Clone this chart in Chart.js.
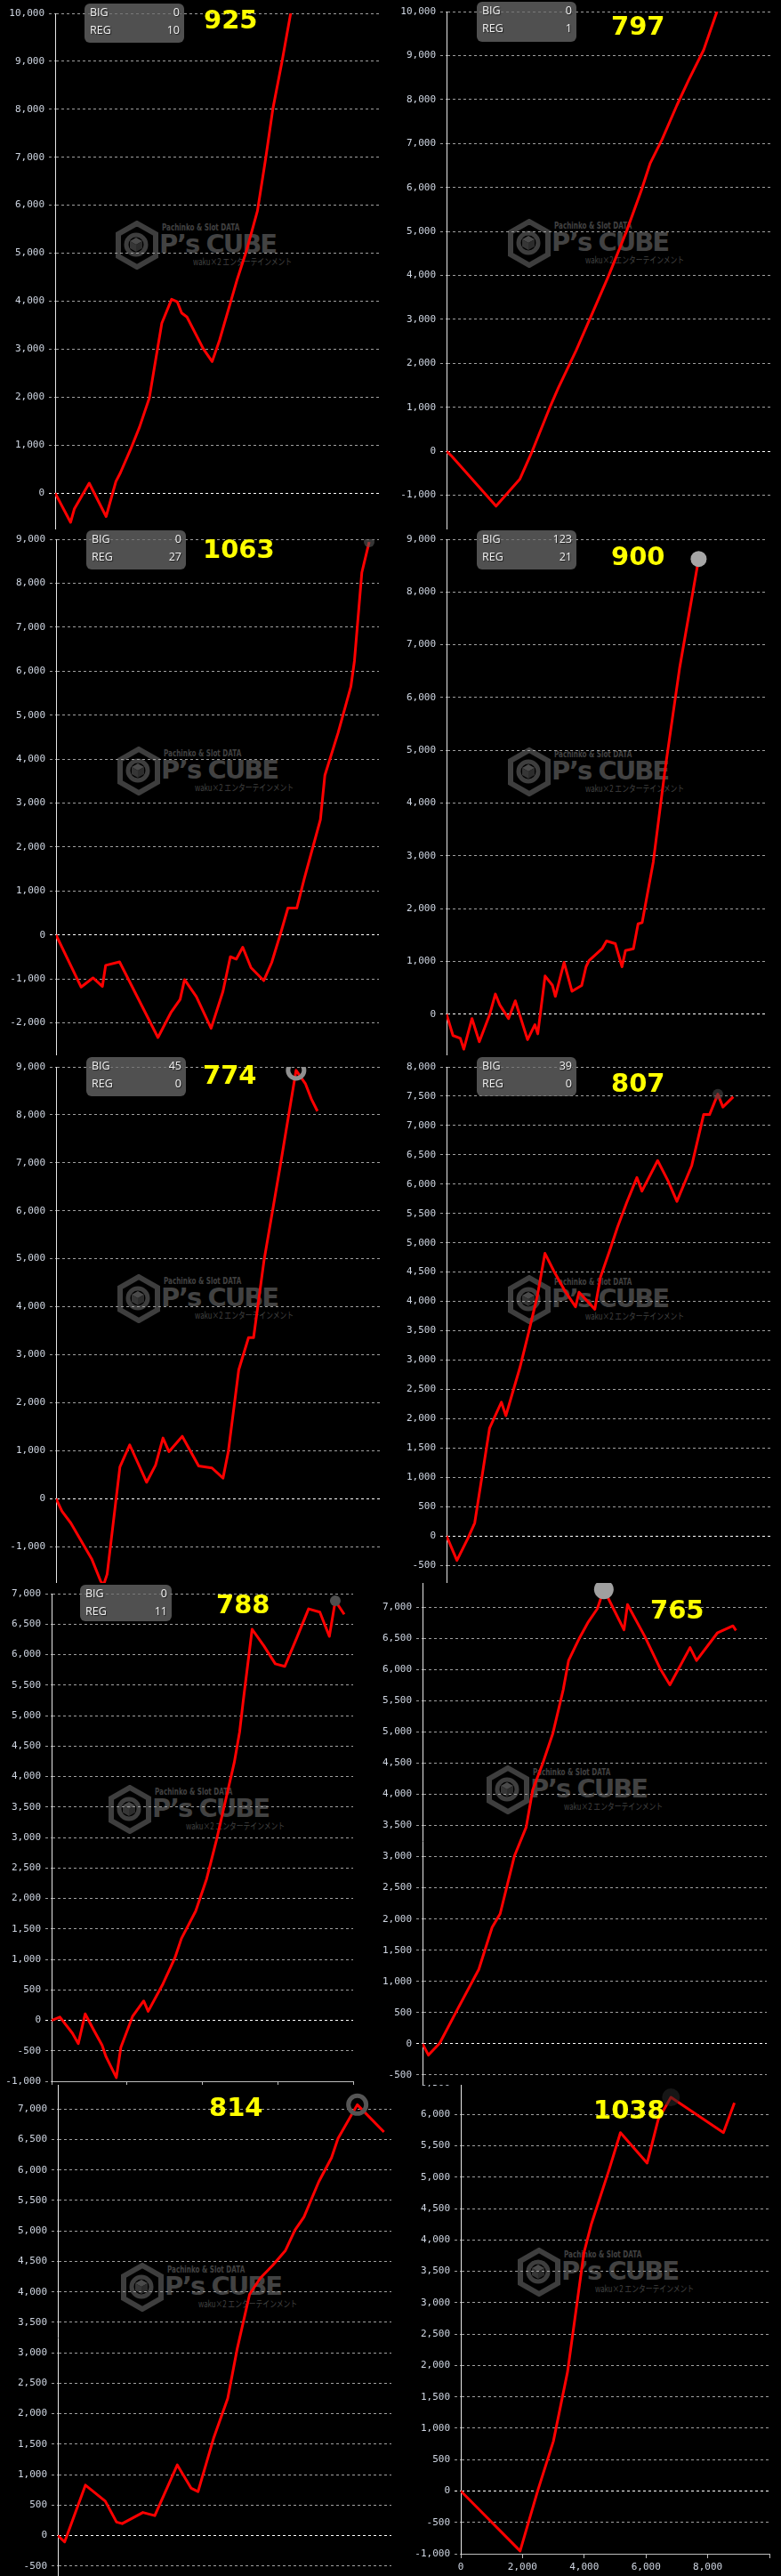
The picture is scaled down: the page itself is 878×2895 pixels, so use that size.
<!DOCTYPE html>
<html lang="ja">
<head>
<meta charset="UTF-8">
<title>スランプグラフ</title>
<script src="https://cdn.jsdelivr.net/npm/chart.js@4.4.1/dist/chart.umd.min.js"></script>
<style>
  body { margin: 0; background: #000; width: 878px; height: 2895px; position: relative; overflow: hidden; }
  .panel { position: absolute; overflow: hidden; background: #000; }
  .panel canvas { position: absolute; z-index: 1; }
  .wm { position: absolute; z-index: 0; width: 190px; height: 56px; color: #424242; }
  .wm svg { position: absolute; left: 0; top: 0; }
  .wm div { position: absolute; white-space: nowrap; transform-origin: 0 0; }
  .wm .t1 { left: 52px; top: 2px; font: bold 10px 'DejaVu Sans'; transform: scaleX(0.72); }
  .wm .t2 { left: 49px; top: 12px; font: bold 29px 'DejaVu Sans'; line-height: 1; letter-spacing: -2px; }
  .wm .t3 { left: 87px; top: 41px; font: 10px 'Noto Sans CJK JP'; line-height: 1; transform: scaleX(0.78); }
  .badge { position: absolute; z-index: 2; box-sizing: border-box; padding: 0 5px 0 6px;
           background: rgba(108,108,108,0.74); border-radius: 6px;
           font: 12.5px 'Open Sans'; color: #f2f2f2; text-shadow: 1px 1px 1px #222; }
  .badge .row { display: flex; justify-content: space-between; height: 20px; line-height: 20px; }
  .total { position: absolute; z-index: 2; color: #ffff00; font: bold 29px 'DejaVu Sans'; line-height: 1; }
</style>
</head>
<body>
<script>
// values (games, coin difference)
const games1 = [0, 476, 595, 1052, 1574, 1876, 2013, 2333, 2607, 2909, 3065, 3294, 3596, 3769, 3907, 4071, 4574, 4849, 5078, 5352, 5627, 5901, 6249, 6496, 6725, 7000, 7274, 7500];
const coins1 = [0, -610, -326, 206, -490, 241, 419, 916, 1377, 1980, 2619, 3541, 4038, 3989, 3754, 3669, 3009, 2740, 3187, 3825, 4464, 5032, 5884, 6948, 8013, 8971, 10000, 10850];

const games2 = [0, 156, 1529, 2262, 2628, 3178, 3453, 4002, 4460, 5009, 5559, 6016, 6291, 6658, 7115, 7482, 7940, 8352, 8600];
const coins2 = [0, -108, -1247, -635, -31, 976, 1441, 2293, 3067, 3997, 5004, 5933, 6553, 7095, 7870, 8451, 9125, 10000, 10600];

const games3 = [0, 778, 1144, 1436, 1537, 1967, 3156, 3568, 3843, 3980, 4346, 4803, 5169, 5398, 5581, 5782, 6038, 6432, 6679, 6953, 7182, 7456, 7685, 8188, 8326, 8737, 9131, 9241, 9470, 9698];
const coins3 = [0, -1185, -976, -1170, -690, -612, -2332, -1751, -1464, -1015, -1402, -2122, -1286, -496, -550, -279, -744, -1038, -627, 31, 612, 612, 1270, 2626, 3633, 4601, 5647, 6228, 8241, 8938];

const games4 = [0, 201, 430, 540, 797, 1026, 1346, 1529, 1667, 1941, 2152, 2537, 2766, 2857, 3086, 3315, 3407, 3681, 3929, 4231, 4368, 4460, 4872, 5009, 5284, 5495, 5604, 5852, 5998, 6126, 6474, 6841, 7299, 7894];
const coins4 = [0, -406, -458, -665, -84, -523, -19, 381, 174, -84, 252, -484, -200, -374, 723, 548, 335, 981, 432, 542, 897, 1013, 1239, 1387, 1335, 897, 1206, 1239, 1710, 1735, 2884, 4626, 6561, 8626];

const games5 = [0, 183, 457, 915, 1098, 1372, 1464, 1574, 1967, 2269, 2791, 3065, 3294, 3477, 3888, 4392, 4803, 5142, 5306, 5627, 5929, 6084, 6404, 6907, 7393, 7685, 7868, 8051];
const coins5 = [0, -263, -511, -1043, -1256, -1718, -1800, -1576, 660, 1121, 341, 696, 1263, 979, 1299, 681, 639, 426, 979, 2683, 3357, 3357, 4954, 6941, 8928, 8644, 8325, 8077];

const games6 = [0, 321, 659, 870, 1328, 1694, 1832, 2262, 2537, 2811, 3040, 3315, 3636, 3984, 4093, 4579, 4753, 5055, 5284, 5559, 5879, 6035, 6520, 6841, 7115, 7573, 7940, 8123, 8379, 8535, 8855];
const coins6 = [0, -418, -41, 221, 1835, 2282, 2050, 2862, 3472, 4110, 4819, 4517, 4197, 3907, 4157, 3866, 4412, 4894, 5271, 5677, 6113, 5881, 6403, 6055, 5707, 6316, 7187, 7187, 7535, 7315, 7489];

const games7 = [0, 221, 552, 709, 891, 1103, 1340, 1442, 1718, 1837, 2152, 2443, 2562, 2956, 3271, 3444, 3823, 4114, 4375, 4650, 4847, 4989, 5084, 5320, 5635, 5935, 6187, 6502, 6818, 7117, 7369, 7527, 7764];
const coins7 = [0, 53, -212, -382, 106, -143, -408, -594, -939, -445, 69, 318, 148, 599, 1023, 1341, 1792, 2322, 2959, 3701, 4231, 4735, 5239, 6416, 6140, 5848, 5806, 6273, 6750, 6697, 6299, 6882, 6660];

const games8 = [0, 172, 499, 1033, 1635, 2022, 2255, 2668, 3012, 3201, 3485, 3787, 4088, 4243, 4561, 4819, 5077, 5267, 5852, 5955, 6454, 6902, 7186, 7771, 7960, 8563, 9019, 9105];
const coins8 = [0, -181, 10, 570, 1192, 1866, 2084, 3007, 3473, 4069, 4484, 4977, 5677, 6143, 6506, 6765, 6972, 7283, 6635, 7040, 6532, 6014, 5754, 6350, 6143, 6584, 6698, 6625];

const games9 = [0, 204, 827, 1422, 1760, 1929, 2551, 2907, 3582, 4000, 4204, 4667, 5093, 5378, 5751, 6071, 6444, 6818, 7111, 7378, 7822, 8204, 8400, 8978, 9778];
const coins9 = [0, -105, 827, 564, 221, 195, 379, 327, 1159, 775, 722, 1591, 2250, 3066, 3962, 4225, 4436, 4673, 5016, 5226, 5806, 6201, 6517, 7071, 6623];

const games10 = [0, 1923, 2500, 3000, 3462, 3990, 4231, 4808, 5173, 6038, 6394, 6808, 8510, 8865];
const coins10 = [0, -955, 15, 792, 1905, 3795, 4254, 5123, 5710, 5225, 5914, 6272, 5710, 6185];

const totals = ['925', '797', '1063', '900', '774', '807', '788', '765', '814', '1038'];
const bigCounts = [0, 0, 0, 123, 45, 39, 0];
const regCounts = [10, 1, 27, 21, 0, 0, 11];

const allGames = [games1, games2, games3, games4, games5, games6, games7, games8, games9, games10];
const allCoins = [coins1, coins2, coins3, coins4, coins5, coins6, coins7, coins8, coins9, coins10];

// where each cropped graph sits on the page
const panels = [
  {box: [0, 0, 438, 595],      axisX: 62,  gridR: 426, zeroPx: 554.5,  refVal: 10000, refPx: 15.3,   yMin: -1000, yMax: 10000, step: 1000, xMax: 10000},
  {box: [438, 0, 440, 595],    axisX: 502, gridR: 866, zeroPx: 507.5,  refVal: 10000, refPx: 13.4,   yMin: -2000, yMax: 10000, step: 1000, xMax: 10000},
  {box: [0, 595, 438, 591],    axisX: 63,  gridR: 428, zeroPx: 1050.8, refVal: 9000,  refPx: 606.1,  yMin: -3000, yMax: 9000,  step: 1000, xMax: 10000},
  {box: [438, 595, 440, 591],  axisX: 502, gridR: 866, zeroPx: 1140,   refVal: 9000,  refPx: 606.1,  yMin: -1000, yMax: 9000,  step: 1000, xMax: 10000},
  {box: [0, 1186, 438, 593],   axisX: 63,  gridR: 428, zeroPx: 1684.4, refVal: 9000,  refPx: 1199.1, yMin: -2000, yMax: 9000,  step: 1000, xMax: 10000},
  {box: [438, 1186, 440, 593], axisX: 502, gridR: 866, zeroPx: 1726.5, refVal: 8000,  refPx: 1199.1, yMin: -1000, yMax: 8000,  step: 500,  xMax: 10000},
  {box: [0, 1779, 430, 564],   axisX: 58,  gridR: 397, zeroPx: 2270.9, refVal: 7000,  refPx: 1791.1, yMin: -1000, yMax: 7000,  step: 500,  xMax: 8000, xAxis: true},
  {box: [430, 1779, 448, 564], axisX: 475, gridR: 862, zeroPx: 2297.1, refVal: 7000,  refPx: 1806.3, yMin: -1000, yMax: 7500,  step: 500,  xMax: 10000},
  {box: [0, 2343, 444, 552],   axisX: 65,  gridR: 440, zeroPx: 2849.6, refVal: 7000,  refPx: 2370.7, yMin: -1000, yMax: 7500,  step: 500,  xMax: 10000},
  {box: [444, 2343, 434, 552], axisX: 518, gridR: 865, zeroPx: 2799.5, refVal: 6000,  refPx: 2376.1, yMin: -1000, yMax: 6500,  step: 500,  xMax: 10000, xAxis: true, hideLastX: true}
];

// max-point markers (null = none)
const markers = [
  null, null,
  {r: 6,  bg: 'rgba(90,90,90,0.6)', bc: 'rgba(0,0,0,0)', bw: 0},
  {r: 9,  bg: '#a6a6a6',            bc: 'rgba(0,0,0,0)', bw: 0},
  {r: 9,  bg: 'rgba(0,0,0,0)',      bc: '#8f8f8f',       bw: 5},
  {r: 6,  bg: 'rgba(70,70,70,0.6)', bc: 'rgba(0,0,0,0)', bw: 0},
  {r: 6,  bg: '#505050',            bc: 'rgba(0,0,0,0)', bw: 0},
  {r: 11, bg: '#a0a0a0',            bc: 'rgba(0,0,0,0)', bw: 0},
  {r: 10, bg: 'rgba(0,0,0,0)',      bc: '#555555',       bw: 5},
  {r: 10, bg: 'rgba(40,40,40,0.55)', bc: 'rgba(0,0,0,0)', bw: 0}
];

const totalPos = [[229, 8], [687, 15], [228, 603], [687, 611], [228, 1194], [687, 1203], [243, 1789], [731, 1795], [235, 2354], [667, 2357]];
const badgePos = [[95, 4, 112, 44], [536, 2, 112, 45], [97, 596, 112, 44], [536, 596, 112, 44], [97, 1188, 112, 44], [536, 1188, 112, 44], [90, 1781, 103, 41]];
const wmPos = [[130, 248], [571, 246], [132, 839], [571, 840], [132, 1432], [571, 1433], [122, 2006], [547, 1984], [136, 2543], [582, 2526]];

const logoSvg =
  '<svg width="48" height="55" viewBox="0 0 48 55">' +
  '<polygon points="24,3 45,15 45,40 24,52 3,40 3,15" fill="none" stroke="#3e3e3e" stroke-width="6"/>' +
  '<circle cx="23" cy="27" r="11" fill="none" stroke="#3e3e3e" stroke-width="5"/>' +
  '<polygon points="23,19 30,23 23,27 16,23" fill="#4a4a4a"/>' +
  '<polygon points="16,23 23,27 23,35 16,31" fill="#363636"/>' +
  '<polygon points="30,23 23,27 23,35 30,31" fill="#2c2c2c"/>' +
  '</svg>';

const tickFont = {family: 'DejaVu Sans Mono', size: 11};
const tickColor = '#cfd6e2';
const fmt = v => Number(v).toLocaleString('en-US');

function addPanel(i) {
  const p = panels[i];
  const [bl, bt, bw, bh] = p.box;
  const box = document.createElement('div');
  box.className = 'panel';
  box.style.left = bl + 'px';
  box.style.top = bt + 'px';
  box.style.width = bw + 'px';
  box.style.height = bh + 'px';
  document.body.appendChild(box);

  // watermark sits under the transparent canvas
  const wm = document.createElement('div');
  wm.className = 'wm';
  wm.style.left = (wmPos[i][0] - bl) + 'px';
  wm.style.top = (wmPos[i][1] - bt) + 'px';
  wm.innerHTML = logoSvg + '<div class="t1">Pachinko &amp; Slot DATA</div>' +
    '<div class="t2">P’s CUBE</div><div class="t3">waku×2 エンターテインメント</div>';
  box.appendChild(wm);

  const pxPer = (p.zeroPx - p.refPx) / p.refVal;
  const topPx = p.zeroPx - p.yMax * pxPer;
  const botPx = p.zeroPx - p.yMin * pxPer;
  const padTop = 14;
  const padBottom = p.xAxis ? 0 : 14;
  const axisH = p.xAxis ? 26 : 0;
  const padRight = p.xAxis ? 24 : 4;
  const w = Math.round(p.gridR - bl + padRight);
  const h = Math.round(botPx - topPx + padTop + padBottom + axisH);
  const yAxisW = p.axisX - bl;

  const cv = document.createElement('canvas');
  cv.width = w;
  cv.height = h;
  cv.style.width = w + 'px';
  cv.style.height = h + 'px';
  cv.style.left = '0px';
  cv.style.top = Math.round(topPx - padTop - bt) + 'px';
  box.appendChild(cv);

  const games = allGames[i], coins = allCoins[i];
  const mk = markers[i];
  const hi = mk ? coins.indexOf(Math.max(...coins)) : -1;

  new Chart(cv, {
    type: 'line',
    data: {
      datasets: [{
        data: games.map((g, k) => ({x: g, y: coins[k]})),
        borderColor: '#ff0000',
        borderWidth: 3,
        borderJoinStyle: 'round',
        tension: 0,
        fill: false,
        pointRadius: ctx => (ctx.dataIndex === hi ? mk.r : 0),
        pointHoverRadius: 0,
        pointBackgroundColor: mk ? mk.bg : 'transparent',
        pointBorderColor: mk ? mk.bc : 'transparent',
        pointBorderWidth: mk ? mk.bw : 0
      }]
    },
    options: {
      responsive: false,
      animation: false,
      devicePixelRatio: 1,
      events: [],
      layout: {padding: {top: padTop, bottom: padBottom, left: 0, right: padRight}},
      plugins: {legend: {display: false}, tooltip: {enabled: false}},
      scales: {
        x: {
          type: 'linear', min: 0, max: p.xMax, display: !!p.xAxis,
          afterFit: s => { s.height = axisH; },
          ticks: {
            stepSize: 2000, color: tickColor, font: tickFont, padding: 4,
            maxRotation: 0, autoSkip: false, includeBounds: false,
            callback: v => (p.hideLastX && v === p.xMax ? '' : fmt(v))
          },
          grid: {drawOnChartArea: false, color: '#bdbdbd', tickLength: 5},
          border: {color: '#bdbdbd', width: 1}
        },
        y: {
          min: p.yMin, max: p.yMax,
          afterFit: s => { s.width = yAxisW; },
          ticks: {
            stepSize: p.step, maxTicksLimit: 1000, autoSkip: false, includeBounds: false,
            color: tickColor, font: tickFont, padding: 5, callback: v => fmt(v)
          },
          grid: {
            color: c => (c.tick && c.tick.value === 0 ? '#ffffff' : '#a0a0a0'),
            lineWidth: 1, tickLength: 7, tickBorderDash: [3, 3]
          },
          border: {display: true, color: '#e6e6e6', width: 1, dash: [3, 3]}
        }
      }
    }
  });

  // big yellow total
  const t = document.createElement('div');
  t.className = 'total';
  t.textContent = totals[i];
  t.style.left = (totalPos[i][0] - bl) + 'px';
  t.style.top = (totalPos[i][1] - bt) + 'px';
  box.appendChild(t);

  // BIG / REG badge
  if (i < badgePos.length) {
    const [x, y, bwid, bhei] = badgePos[i];
    const b = document.createElement('div');
    b.className = 'badge';
    b.style.left = (x - bl) + 'px';
    b.style.top = (y - bt) + 'px';
    b.style.width = bwid + 'px';
    b.style.height = bhei + 'px';
    b.innerHTML = '<div class="row"><span>BIG</span><span>' + bigCounts[i] + '</span></div>' +
                  '<div class="row"><span>REG</span><span>' + regCounts[i] + '</span></div>';
    box.appendChild(b);
  }
}

for (let i = 0; i < panels.length; i++) addPanel(i);
</script>
</body>
</html>
